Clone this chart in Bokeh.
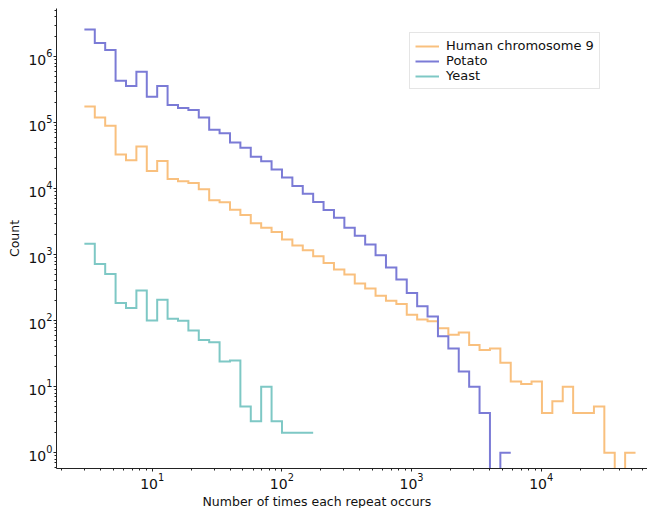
import numpy as np
from bokeh.plotting import figure
from bokeh.models import Range1d, Title
from bokeh.embed import file_html
from bokeh.resources import INLINE

# ---- data ----
bin_start = 3.0           # lower edge of first bin
bin_log_width = 0.0802    # log10 width of each bin

series_names = ["Human chromosome 9", "Potato", "Yeast"]
human_counts = [176000, 120000, 90000, 32800, 27000, 43400, 18500, 26300, 14000, 12900,
                12200, 9800, 6650, 6200, 4790, 3980, 2980, 2550, 2200, 1700,
                1380, 1170, 948, 750, 596, 500, 365, 306, 238, 200,
                179, 123, 104, 98, 77, 61, 66, 43, 36, 38,
                23, 12, 11, 12, 4, 6, 10, 4, 4, 5,
                1, 0, 1]
potato_counts = [2570000, 1610000, 1260000, 432000, 359000, 592000, 247000, 359000, 185000, 166000,
                 155000, 120000, 78000, 69300, 49900, 41500, 30300, 26000, 19500, 14700,
                 11000, 8400, 6300, 4740, 3620, 2550, 1940, 1420, 982, 638,
                 422, 263, 165, 116, 58, 38, 17, 10, 4, 0,
                 1]
yeast_counts = [1460, 724, 510, 185, 156, 286, 101, 208, 107, 100,
                71, 51, 47, 24, 25, 5, 3, 10, 3, 2,
                2, 2]
colors = ["#F9C07E", "#7B7BD6", "#7EC8C5"]

FONT = "DejaVu Sans"

p = figure(width=647, height=508, x_axis_type="log", y_axis_type="log",
           x_range=Range1d(10 ** 0.262, 10 ** 4.82),
           y_range=Range1d(10 ** -0.239, 10 ** 6.729),
           output_backend="svg", toolbar_location=None,
           min_border_left=56, min_border_right=0, min_border_top=8, min_border_bottom=10)

for name, counts, color in zip(series_names, [human_counts, potato_counts, yeast_counts], colors):
    c = np.array(counts, dtype=float)
    n = len(c)
    edges = bin_start * 10 ** (bin_log_width * np.arange(n + 1))
    c_plot = np.where(c > 0, c, 1e-3)
    y = np.append(c_plot, c_plot[-1])
    p.step(x=edges, y=y, mode="after", line_color=color, line_width=2,
           line_join="miter", legend_label=name)

p.outline_line_color = None
p.xgrid.visible = False
p.ygrid.visible = False
p.background_fill_color = "white"
p.border_fill_color = "white"

for ax in (p.xaxis[0], p.yaxis[0]):
    ax.axis_line_color = "#222222"
    ax.major_tick_line_color = "#222222"
    ax.minor_tick_line_color = "#222222"
    ax.major_tick_in = 0
    ax.major_tick_out = 3
    ax.minor_tick_in = 0
    ax.minor_tick_out = 2
    ax.major_label_text_font = FONT
    ax.major_label_text_font_size = "14px"
    ax.major_label_text_color = "#111111"
    ax.axis_label_text_font = FONT
    ax.axis_label_text_font_size = "12.5px"
    ax.axis_label_text_font_style = "normal"
    ax.axis_label_text_color = "#111111"
    ax.major_label_standoff = 1
    ax.axis_label_standoff = 3

p.yaxis.axis_label = "Count"

xlabel = Title(text="Number of times each repeat occurs", align="left", offset=146,
               text_font=FONT, text_font_size="12.5px", text_font_style="normal",
               text_color="#111111", standoff=0)
p.add_layout(xlabel, "below")

lg = p.legend[0]
lg.location = (353, 379)
lg.label_text_font = FONT
lg.label_text_font_size = "13px"
lg.label_text_color = "#111111"
lg.glyph_width = 24
lg.glyph_height = 12
lg.label_height = 12
lg.label_standoff = 7
lg.spacing = 0
lg.padding = 5
lg.margin = 0
lg.border_line_color = "#cccccc"
lg.border_line_width = 1
lg.background_fill_alpha = 1.0

open("out.html", "w").write(file_html(p, INLINE))
